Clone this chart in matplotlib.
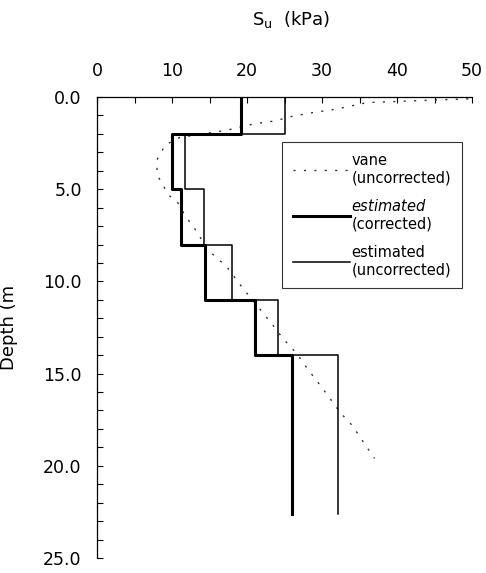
import numpy as np
import matplotlib
matplotlib.use("Agg")
import matplotlib.pyplot as plt
from matplotlib.lines import Line2D

plt.rcParams['font.family'] = ['DejaVu Sans']
plt.rcParams['mathtext.fontset'] = 'dejavusans'

# Layer boundaries (m) and strength values (kPa)
layer_bounds = [0, 2, 5, 8, 11, 14, 22.6]
su_corrected = [19.2, 10.0, 11.2, 14.4, 21.1, 26.0]
su_uncorrected = [25.1, 11.7, 14.2, 18.0, 24.1, 32.1]

# Vane profile (uncorrected)
vane_depth = [0.1, 0.3, 0.65, 0.87, 1.05, 1.3, 1.45, 1.8, 2.2, 2.6, 3.4, 4.2, 5.3, 5.75,
              6.4, 7.3, 8.3, 9.2, 10.4, 11.5, 12.4, 13.1, 13.9, 14.7, 15.5, 16.2, 17.1,
              17.8, 18.7, 19.6]
vane_su = [49.5, 36.0, 32.0, 28.4, 26.0, 23.7, 21.0, 17.3, 11.0, 9.1, 8.0, 8.0, 9.5, 10.8,
           11.7, 13.3, 14.8, 17.3, 19.5, 21.7, 23.5, 24.8, 26.6, 28.0, 29.5, 30.8, 32.4,
           34.0, 35.5, 37.0]

x_ticks = [0, 10, 20, 30, 40, 50]
y_ticks = [0, 5, 10, 15, 20, 25]


def step_profile(bounds, vals):
    b = np.asarray(bounds, float)
    v = np.asarray(vals, float)
    ys = np.repeat(b, 2)[1:-1]
    xs = np.repeat(v, 2)
    return xs, ys


vane_style = (0, (1.5, 6))

fig = plt.figure(figsize=(4.86, 5.73), dpi=100)
ax = fig.add_axes([97 / 486, 1 - 558 / 573, (472 - 97) / 486, (558 - 97) / 573])

ax.plot(vane_su, vane_depth, color='#333333', lw=1.0, linestyle=vane_style)
xs, ys = step_profile(layer_bounds, su_uncorrected)
ax.plot(xs, ys, color='black', lw=1.1)
xs, ys = step_profile(layer_bounds, su_corrected)
ax.plot(xs, ys, color='black', lw=2.2)

ax.set_xlim(0, 50)
ax.set_ylim(25, 0)
ax.xaxis.tick_top()
ax.set_xticks(x_ticks)
ax.set_xticks(np.arange(0, 51, 5), minor=True)
ax.set_yticks(y_ticks)
ax.set_yticks(np.arange(0, 26, 1), minor=True)
ax.set_yticklabels([f"{v:.1f}" for v in y_ticks])
ax.tick_params(axis='x', which='both', direction='in', length=4, width=0.8, pad=12.5, labelsize=12.5)
ax.tick_params(axis='y', which='both', direction='in', length=4, width=0.8, pad=11, labelsize=12.5)
ax.tick_params(axis='x', which='minor', top=True, bottom=False)
ax.spines['right'].set_visible(False)
ax.spines['bottom'].set_visible(False)
ax.spines['left'].set_linewidth(0.9)
ax.spines['top'].set_linewidth(0.9)

ax.set_ylabel("Depth (m", fontsize=13)
ax.yaxis.set_label_coords(-(97 - 18) / 375, 0.5)

fig.text(291 / 486, 1 - 20 / 573, "S$_\\mathregular{u}$  (kPa)", ha='center', va='center', fontsize=13)

handles = [Line2D([], [], color='#333333', lw=1.0, linestyle=vane_style),
           Line2D([], [], color='black', lw=2.2),
           Line2D([], [], color='black', lw=1.1)]
labels = ["vane\n(uncorrected)", "$\\mathit{estimated}$\n(corrected)", "estimated\n(uncorrected)"]
leg = ax.legend(handles, labels, loc='upper left', bbox_to_anchor=((282 - 97) / 375, 1 - (142 - 97) / 461),
                fontsize=10.5, frameon=True, fancybox=False, edgecolor='black', borderaxespad=0,
                handlelength=3.9, handletextpad=0.1, borderpad=0.75, labelspacing=0.9)
leg.get_frame().set_linewidth(0.8)

fig.savefig("out.png", dpi=100)
